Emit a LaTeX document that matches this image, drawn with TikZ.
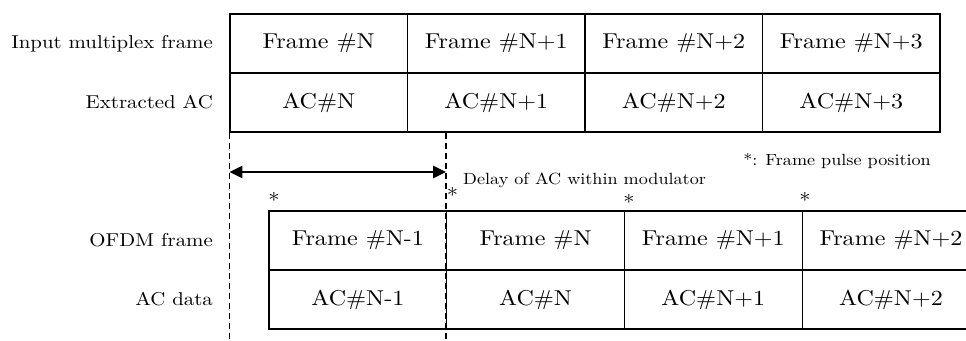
\documentclass[tikz,border=0pt]{standalone}
\usepackage{fontspec}
\setmainfont{lmroman10-regular}[Extension=.otf, FakeStretch=1.12]
\usetikzlibrary{arrows.meta}
\begin{document}
\begin{tikzpicture}[x=1pt,y=-1pt,
  cell/.style={draw, line width=1.1pt, minimum height=59pt, inner sep=0pt, font=\fontsize{21.5}{25}\selectfont},
  topcell/.style={cell, minimum width=177.5pt},
  botcell/.style={cell, minimum width=177.7pt},
  lbl/.style={anchor=east, inner sep=0pt, font=\fontsize{18.6}{23}\selectfont},
  small/.style={inner sep=0pt, font=\fontsize{16.2}{20}\selectfont},
  star/.style={inner sep=0pt, anchor=base, font=\fontsize{20}{23}\selectfont},
  guide/.style={line width=1.6pt, dash pattern=on 6pt off 4pt},
  span/.style={{Triangle[length=13pt,width=12pt]}-{Triangle[length=13pt,width=12pt]}, line width=2.5pt}
]
\clip (0,0) rectangle (966,340);
% top table
\node[topcell] (t1) at (318.75,43.5) {Frame \#N};
\node[topcell] (t2) at (496.25,43.5) {Frame \#N+1};
\node[topcell] (t3) at (673.75,43.5) {Frame \#N+2};
\node[topcell] (t4) at (851.25,43.5) {Frame \#N+3};
\node[topcell] (a1) at (318.75,102.5) {AC\#N};
\node[topcell] (a2) at (496.25,102.5) {AC\#N+1};
\node[topcell] (a3) at (673.75,102.5) {AC\#N+2};
\node[topcell] (a4) at (851.25,102.5) {AC\#N+3};
% bottom table
\node[botcell] (b1) at (357.85,240.5) {Frame \#N-1};
\node[botcell] (b2) at (535.55,240.5) {Frame \#N};
\node[botcell] (b3) at (713.25,240.5) {Frame \#N+1};
\node[botcell] (b4) at (890.95,240.5) {Frame \#N+2};
\node[botcell] (c1) at (357.85,299.5) {AC\#N-1};
\node[botcell] (c2) at (535.55,299.5) {AC\#N};
\node[botcell] (c3) at (713.25,299.5) {AC\#N+1};
\node[botcell] (c4) at (890.95,299.5) {AC\#N+2};
% row labels
\node[lbl] (l1) at (213,43.5) {Input multiplex frame};
\node[lbl] (l2) at (213,102.5) {Extracted AC};
\node[lbl] (l3) at (213,240.5) {OFDM frame};
\node[lbl] (l4) at (213,299.5) {AC data};
% guides
\coordinate (g1top) at (a1.south west);
\coordinate (g1bot) at (a1.south west |- 0,340);
\coordinate (g2top) at (b2.west |- a1.south);
\coordinate (g2bot) at (b2.west |- 0,340);
\draw[guide] (g1top) -- (g1bot);
\draw[guide] (g2top) -- (g2bot);
\coordinate (al) at (g1top |- 0,172);
\coordinate (ar) at (g2top |- 0,172);
\draw[span] (al) -- (ar);
% texts
\node[small, anchor=mid west] (delay) at (463,182.5) {Delay of AC within modulator};
\node[small, anchor=mid east] (note) at (931,163.5) {*: Frame pulse position};
\node[star] (s1) at (274,207.8) {*};
\node[star] (s2) at (452.5,202.5) {*};
\node[star] (s3) at (629,209) {*};
\node[star] (s4) at (805,207.8) {*};
\end{tikzpicture}
\end{document}
